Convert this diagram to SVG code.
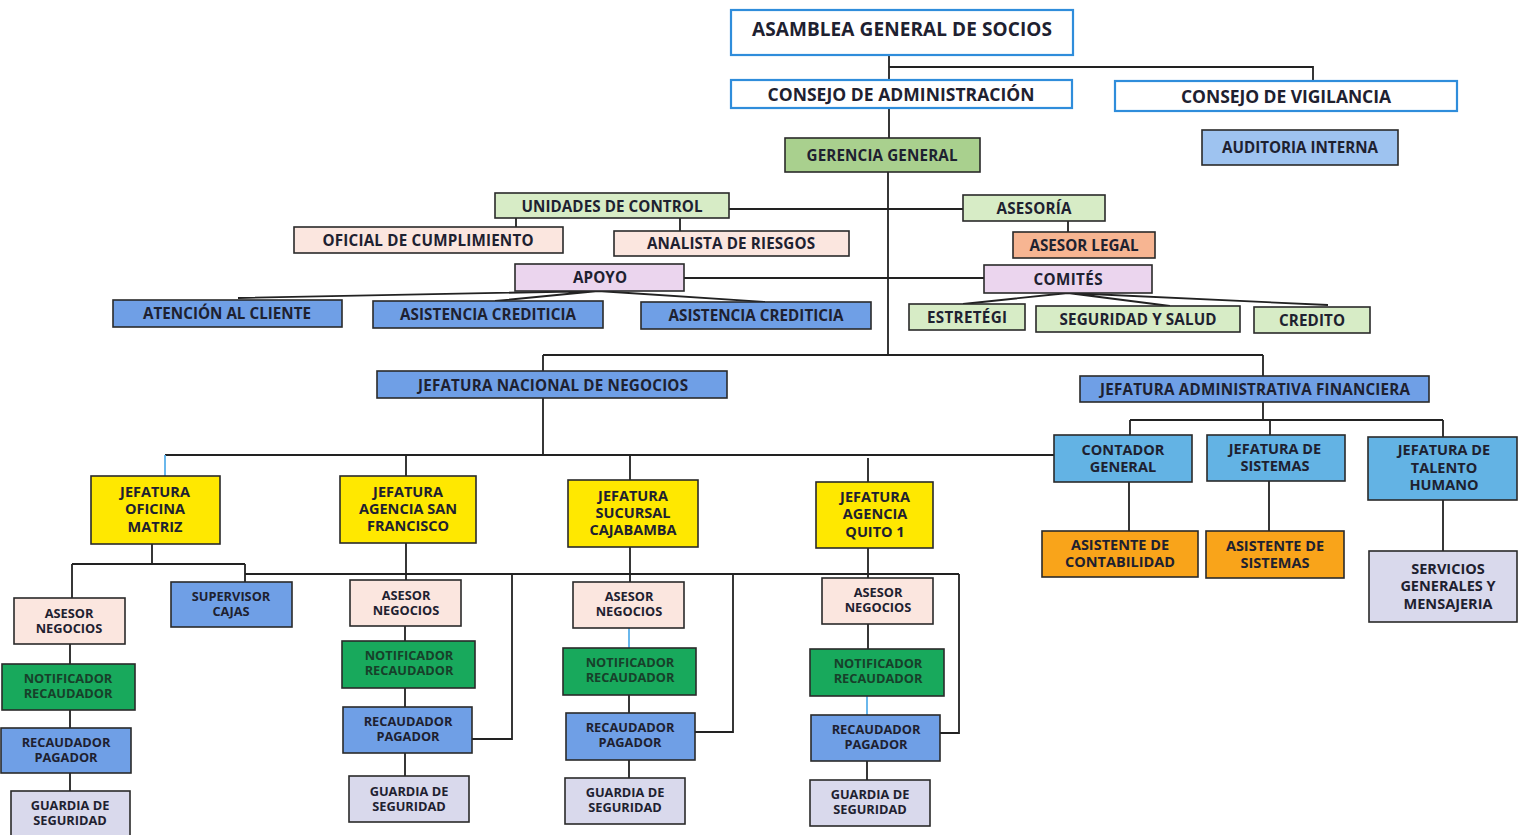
<svg xmlns="http://www.w3.org/2000/svg" width="1518" height="835" viewBox="0 0 1518 835">
<style>
.t{font-family:"Open Sans",Lato,"Liberation Sans",sans-serif;font-weight:700;fill:#1e2130;text-anchor:middle}
.s12{font-size:12.8px}.s13{font-size:14.5px}.s14{font-size:15.2px}.s16{font-size:17.5px}.s17{font-size:19px}
.b{stroke:#2a2a2a;stroke-width:1.6}
.top{fill:#fff;stroke:#2f8ddb;stroke-width:2.2}
.lg{fill:#d7ecc6}.gg{fill:#a9d08e}.pk{fill:#fbe6df}.sa{fill:#f7b592}.lv{fill:#ebd5ee}
.bl{fill:#6f9fe6}.la{fill:#9ec3f0}.cy{fill:#63b3e4}.ye{fill:#ffe800}.or{fill:#f9a41a}.gy{fill:#d9d9ec}.gn{fill:#18a95c}
.tg{fill:#17402a}
.c{fill:none;stroke:#222;stroke-width:1.8}
.cb{fill:none;stroke:#5ab0ea;stroke-width:1.8}
</style>
<rect width="1518" height="835" fill="#fff"/>
<g id="connectors">
<path class="c" d="M889 55V80M889 67H1313V81M889 108V138M888 172V355"/>
<path class="c" d="M729 209H963M516 218V227M680 218V231M1068 221V232M684 278H984"/>
<path class="c" d="M598 291L238 298M598 291L495 301M598 291L765 302"/>
<path class="c" d="M1068 293L963 304M1068 293L1170 306M1068 293L1328 305"/>
<path class="c" d="M543 355H1263M543 355V371M1263 355V376M543 398V455M165 455H1054"/>
<path class="cb" d="M165 455V476"/>
<path class="c" d="M406 455V476M630 455V480M868 458V482"/>
<path class="c" d="M1263 402V420M1130 420H1443M1130 420V435M1270 420V435M1443 420V437M1129 482V531M1269 481V531M1443 500V551"/>
<path class="c" d="M152 544V564M72 564H245M72 564V598M245 564V582M245 574H959M70 644V791"/>
<path class="c" d="M406 543V580M405 626V776M512 574V739H472"/>
<path class="c" d="M630 547V582M629 695V713M629 760V778M733 574V732H695"/>
<path class="cb" d="M629 628V648"/>
<path class="c" d="M868 548V578M868 624V649M867 761V780M959 574V733H940"/>
<path class="cb" d="M867 696V715"/>
</g>
<g id="asamblea"><rect class="top" x="731" y="10" width="342" height="45" stroke-width="3"/><text class="t s17" x="902" y="36" textLength="300">ASAMBLEA GENERAL DE SOCIOS</text></g>
<g id="consejo-admin"><rect class="top" x="731" y="80" width="341" height="28"/><text class="t s16" x="901" y="101" textLength="267">CONSEJO DE ADMINISTRACIÓN</text></g>
<g id="consejo-vig"><rect class="top" x="1115" y="81" width="342" height="30"/><text class="t s16" x="1286" y="103" textLength="210">CONSEJO DE VIGILANCIA</text></g>
<g id="auditoria"><rect class="b la" x="1202" y="130" width="196" height="35"/><text class="t s14" x="1300" y="153" textLength="156">AUDITORIA INTERNA</text></g>
<g id="gerencia"><rect class="b gg" x="785" y="138" width="195" height="34" stroke-width="2"/><text class="t s14" x="882" y="161" textLength="151">GERENCIA GENERAL</text></g>
<g id="unidades"><rect class="b lg" x="495" y="193" width="234" height="25"/><text class="t s14" x="612" y="212" textLength="181">UNIDADES DE CONTROL</text></g>
<g id="asesoria"><rect class="b lg" x="963" y="195" width="142" height="26"/><text class="t s14" x="1034" y="214" textLength="75">ASESORÍA</text></g>
<g id="oficial"><rect class="b pk" x="294" y="227" width="269" height="26"/><text class="t s14" x="428" y="246" textLength="211">OFICIAL DE CUMPLIMIENTO</text></g>
<g id="analista"><rect class="b pk" x="614" y="231" width="235" height="25"/><text class="t s14" x="731" y="249" textLength="168">ANALISTA DE RIESGOS</text></g>
<g id="asesor-legal"><rect class="b sa" x="1013" y="232" width="142" height="26"/><text class="t s14" x="1084" y="251" textLength="109">ASESOR LEGAL</text></g>
<g id="apoyo"><rect class="b lv" x="515" y="264" width="169" height="27"/><text class="t s14" x="600" y="283" textLength="54">APOYO</text></g>
<g id="comites"><rect class="b lv" x="984" y="265" width="168" height="28"/><text class="t s14" x="1068" y="285" textLength="69">COMITÉS</text></g>
<g id="atencion"><rect class="b bl" x="113" y="300" width="229" height="27"/><text class="t s14" x="227" y="319" textLength="168">ATENCIÓN AL CLIENTE</text></g>
<g id="asistencia-1"><rect class="b bl" x="373" y="301" width="230" height="27"/><text class="t s14" x="488" y="320" textLength="176">ASISTENCIA CREDITICIA</text></g>
<g id="asistencia-2"><rect class="b bl" x="641" y="302" width="230" height="27"/><text class="t s14" x="756" y="321" textLength="175">ASISTENCIA CREDITICIA</text></g>
<g id="estretegi"><rect class="b lg" x="909" y="304" width="116" height="26"/><text class="t s14" x="967" y="323" textLength="80">ESTRETÉGI</text></g>
<g id="seguridad-salud"><rect class="b lg" x="1036" y="306" width="204" height="26"/><text class="t s14" x="1138" y="325" textLength="157">SEGURIDAD Y SALUD</text></g>
<g id="credito"><rect class="b lg" x="1254" y="307" width="116" height="26"/><text class="t s14" x="1312" y="326" textLength="66">CREDITO</text></g>
<g id="jef-nacional"><rect class="b bl" x="377" y="371" width="350" height="27"/><text class="t s14" x="553" y="391" textLength="270">JEFATURA NACIONAL DE NEGOCIOS</text></g>
<g id="jef-admin"><rect class="b bl" x="1080" y="376" width="349" height="26"/><text class="t s14" x="1255" y="395" textLength="310">JEFATURA ADMINISTRATIVA FINANCIERA</text></g>
<g id="contador"><rect class="b cy" x="1054" y="435" width="138" height="47"/><text class="t s13" x="1123" y="455">CONTADOR</text><text class="t s13" x="1123" y="472">GENERAL</text></g>
<g id="jef-sistemas"><rect class="b cy" x="1207" y="435" width="138" height="46"/><text class="t s13" x="1275" y="454">JEFATURA DE</text><text class="t s13" x="1275" y="471">SISTEMAS</text></g>
<g id="jef-talento"><rect class="b cy" x="1368" y="437" width="149" height="63"/><text class="t s13" x="1444" y="455">JEFATURA DE</text><text class="t s13" x="1444" y="473">TALENTO</text><text class="t s13" x="1444" y="490">HUMANO</text></g>
<g id="asist-contabilidad"><rect class="b or" x="1042" y="531" width="156" height="46"/><text class="t s13" x="1120" y="550">ASISTENTE DE</text><text class="t s13" x="1120" y="567">CONTABILIDAD</text></g>
<g id="asist-sistemas"><rect class="b or" x="1206" y="531" width="138" height="47"/><text class="t s13" x="1275" y="551">ASISTENTE DE</text><text class="t s13" x="1275" y="568">SISTEMAS</text></g>
<g id="servicios"><rect class="b gy" x="1369" y="551" width="148" height="71"/><text class="t s13" x="1448" y="574">SERVICIOS</text><text class="t s13" x="1448" y="591">GENERALES Y</text><text class="t s13" x="1448" y="609">MENSAJERIA</text></g>
<g id="jef-matriz"><rect class="b ye" x="91" y="476" width="129" height="68"/><text class="t s13" x="155" y="497">JEFATURA</text><text class="t s13" x="155" y="514">OFICINA</text><text class="t s13" x="155" y="532">MATRIZ</text></g>
<g id="jef-sanfrancisco"><rect class="b ye" x="340" y="476" width="136" height="67"/><text class="t s13" x="408" y="497">JEFATURA</text><text class="t s13" x="408" y="514">AGENCIA SAN</text><text class="t s13" x="408" y="531">FRANCISCO</text></g>
<g id="jef-cajabamba"><rect class="b ye" x="568" y="480" width="130" height="67"/><text class="t s13" x="633" y="501">JEFATURA</text><text class="t s13" x="633" y="518">SUCURSAL</text><text class="t s13" x="633" y="535">CAJABAMBA</text></g>
<g id="jef-quito"><rect class="b ye" x="816" y="482" width="117" height="66"/><text class="t s13" x="875" y="502">JEFATURA</text><text class="t s13" x="875" y="519">AGENCIA</text><text class="t s13" x="875" y="537">QUITO 1</text></g>
<g id="c1-asesor"><rect class="b pk" x="14" y="598" width="111" height="46"/><text class="t s12" x="69" y="618">ASESOR</text><text class="t s12" x="69" y="633">NEGOCIOS</text></g>
<g id="supervisor"><rect class="b bl" x="171" y="582" width="121" height="45"/><text class="t s12" x="231" y="601">SUPERVISOR</text><text class="t s12" x="231" y="616">CAJAS</text></g>
<g id="c1-notificador"><rect class="b gn" x="2" y="664" width="133" height="46"/><text class="t s12 tg" x="68" y="683">NOTIFICADOR</text><text class="t s12 tg" x="68" y="698">RECAUDADOR</text></g>
<g id="c1-recaudador"><rect class="b bl" x="1" y="728" width="130" height="45"/><text class="t s12" x="66" y="747">RECAUDADOR</text><text class="t s12" x="66" y="762">PAGADOR</text></g>
<g id="c1-guardia"><rect class="b gy" x="11" y="791" width="119" height="50"/><text class="t s12" x="70" y="810">GUARDIA DE</text><text class="t s12" x="70" y="825">SEGURIDAD</text></g>
<g id="c2-asesor"><rect class="b pk" x="350" y="580" width="111" height="46"/><text class="t s12" x="406" y="600">ASESOR</text><text class="t s12" x="406" y="615">NEGOCIOS</text></g>
<g id="c2-notificador"><rect class="b gn" x="342" y="641" width="133" height="47"/><text class="t s12 tg" x="409" y="660">NOTIFICADOR</text><text class="t s12 tg" x="409" y="675">RECAUDADOR</text></g>
<g id="c2-recaudador"><rect class="b bl" x="343" y="707" width="129" height="46"/><text class="t s12" x="408" y="726">RECAUDADOR</text><text class="t s12" x="408" y="741">PAGADOR</text></g>
<g id="c2-guardia"><rect class="b gy" x="349" y="776" width="120" height="46"/><text class="t s12" x="409" y="796">GUARDIA DE</text><text class="t s12" x="409" y="811">SEGURIDAD</text></g>
<g id="c3-asesor"><rect class="b pk" x="573" y="582" width="111" height="46"/><text class="t s12" x="629" y="601">ASESOR</text><text class="t s12" x="629" y="616">NEGOCIOS</text></g>
<g id="c3-notificador"><rect class="b gn" x="563" y="648" width="133" height="47"/><text class="t s12 tg" x="630" y="667">NOTIFICADOR</text><text class="t s12 tg" x="630" y="682">RECAUDADOR</text></g>
<g id="c3-recaudador"><rect class="b bl" x="566" y="713" width="129" height="47"/><text class="t s12" x="630" y="732">RECAUDADOR</text><text class="t s12" x="630" y="747">PAGADOR</text></g>
<g id="c3-guardia"><rect class="b gy" x="565" y="778" width="120" height="46"/><text class="t s12" x="625" y="797">GUARDIA DE</text><text class="t s12" x="625" y="812">SEGURIDAD</text></g>
<g id="c4-asesor"><rect class="b pk" x="822" y="578" width="111" height="46"/><text class="t s12" x="878" y="597">ASESOR</text><text class="t s12" x="878" y="612">NEGOCIOS</text></g>
<g id="c4-notificador"><rect class="b gn" x="810" y="649" width="134" height="47"/><text class="t s12 tg" x="878" y="668">NOTIFICADOR</text><text class="t s12 tg" x="878" y="683">RECAUDADOR</text></g>
<g id="c4-recaudador"><rect class="b bl" x="811" y="715" width="129" height="46"/><text class="t s12" x="876" y="734">RECAUDADOR</text><text class="t s12" x="876" y="749">PAGADOR</text></g>
<g id="c4-guardia"><rect class="b gy" x="810" y="780" width="120" height="46"/><text class="t s12" x="870" y="799">GUARDIA DE</text><text class="t s12" x="870" y="814">SEGURIDAD</text></g>
</svg>
